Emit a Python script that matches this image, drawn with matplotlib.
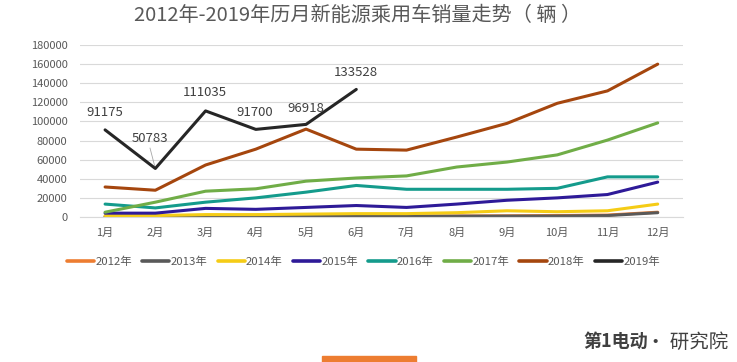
import matplotlib.pyplot as plt
from matplotlib.patches import Rectangle

plt.rcParams['font.family'] = ['Noto Sans CJK SC', 'DejaVu Sans']

months = ['1月', '2月', '3月', '4月', '5月', '6月', '7月', '8月', '9月', '10月', '11月', '12月']
years = ['2012年', '2013年', '2014年', '2015年', '2016年', '2017年', '2018年', '2019年']

sales_2012 = [300, 400, 500, 600, 700, 800, 900, 1000, 1200, 1500, 2000, 5000]
sales_2013 = [200, 200, 300, 400, 500, 600, 700, 800, 900, 1000, 1500, 4500]
sales_2014 = [1500, 1500, 2500, 2500, 3000, 3500, 3500, 4500, 6500, 5500, 6500, 13500]
sales_2015 = [4000, 4000, 9000, 8000, 10000, 12000, 10000, 13500, 17500, 20000, 23500, 36500]
sales_2016 = [13500, 9500, 15500, 20000, 26000, 33000, 29000, 29000, 29000, 30000, 42000, 42000]
sales_2017 = [5000, 15500, 27000, 29500, 37500, 40800, 43000, 52300, 57500, 65000, 80500, 98500]
sales_2018 = [31400, 28000, 54400, 71000, 92000, 71000, 70000, 83700, 98000, 119000, 132000, 160000]
sales_2019 = [91175, 50783, 111035, 91700, 96918, 133528]

colors = ['#ED7D31', '#595959', '#F5CC16', '#2E1A98', '#149B8C', '#70AD47', '#A5460E', '#262626']

fig = plt.figure(figsize=(7.37, 3.62), dpi=100)
ax = fig.add_axes([0.1085, 0.4006, 0.818, 0.475])

x = list(range(1, 13))
all_series = [sales_2012, sales_2013, sales_2014, sales_2015, sales_2016, sales_2017, sales_2018, sales_2019]
for name, vals, c in zip(years, all_series, colors):
    ax.plot(x[:len(vals)], vals, color=c, lw=2.2, label=name, solid_capstyle='round')

# data labels for 2019 (label centres in figure pixels, from the top)
label_pos = [(105, 112), (150, 139), (205, 93), (255, 113), (306, 108), (356, 73)]
for i, v in enumerate(sales_2019):
    px, py = label_pos[i]
    ax.annotate(str(v), xy=(x[i], v), xycoords='data',
                xytext=(px, 362 - py), textcoords='figure pixels',
                ha='center', va='center', fontsize=9.5, color='#404040')
# leader line for 50783
ax.annotate('', xy=(2, 50783), xytext=(150, 362 - 148), textcoords='figure pixels',
            arrowprops=dict(arrowstyle='-', color='#A6A6A6', lw=0.6, shrinkA=0, shrinkB=2))

ax.set_xlim(0.5, 12.5)
ax.set_ylim(0, 180000)
ax.set_yticks(range(0, 180001, 20000))
ax.set_xticks(x)
ax.set_xticklabels(months)

for s in ['top', 'right', 'left']:
    ax.spines[s].set_visible(False)
ax.spines['bottom'].set_color('#D9D9D9')
ax.tick_params(axis='both', length=0, labelsize=8, colors='#595959')
ax.tick_params(axis='x', pad=8)
ax.tick_params(axis='y', pad=9)
ax.yaxis.grid(True, color='#D9D9D9', lw=0.8)
ax.set_axisbelow(True)

fig.text(0.485, 0.958, '2012年-2019年历月新能源乘用车销量走势（ 辆 ）', ha='center', va='center',
         fontsize=14.5, color='#595959')

ax.legend(loc='center', bbox_to_anchor=(0.47, -0.262), ncol=8, frameon=False,
          fontsize=8.2, labelcolor='#595959', handlelength=2.4, handletextpad=0.1,
          columnspacing=0.9)
for line in ax.get_legend().get_lines():
    line.set_linewidth(2.6)

# watermark
fig.text(648 / 737, 0.058, '第1电动', ha='right', va='center', fontsize=13, fontweight='bold',
         fontstyle='italic', color='#404040')
fig.text(0.988, 0.055, '· 研究院', ha='right', va='center', fontsize=14, color='#404040')
fig.patches.append(Rectangle((322 / 737, 0), 94 / 737, 6 / 362, transform=fig.transFigure,
                             color='#ED7D31', zorder=5))

plt.savefig('out.png', dpi=100)
